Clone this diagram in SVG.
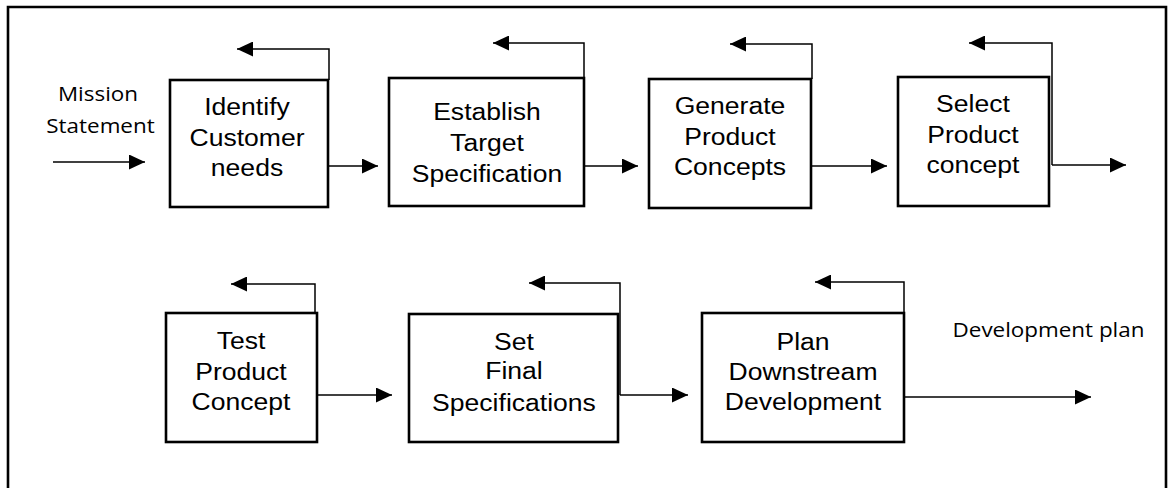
<svg xmlns="http://www.w3.org/2000/svg" width="1168" height="488" viewBox="0 0 1168 488">
<defs>
<marker id="ah" markerUnits="userSpaceOnUse" markerWidth="16" markerHeight="15" refX="16" refY="7.5" orient="auto">
<path d="M0,0 L16,7.5 L0,15 Z" fill="#000"/>
</marker>
<style>
.box{fill:#fff;stroke:#000;stroke-width:2.6}
.frame{fill:none;stroke:#000;stroke-width:2.6}
.con{fill:none;stroke:#000;stroke-width:1.5}
.arr{marker-end:url(#ah)}
.lbl{font-family:"Liberation Sans",Arial,sans-serif;font-size:23.5px;fill:#000;text-anchor:middle}
.note{font-family:"Open Sans","Noto Sans",sans-serif;font-size:19.5px;fill:#000;text-anchor:middle}
</style>
</defs>
<rect width="1168" height="488" fill="#fff"/>
<path class="frame" d="M8,492 V7 H1166 V492"/>

<g id="connectors">
<path class="con arr" d="M53,162 H145"/>
<path class="con arr" d="M329,80 V49 H237"/>
<path class="con arr" d="M329,166 H378"/>
<path class="con arr" d="M584,78 V43 H493"/>
<path class="con arr" d="M584,166 H638"/>
<path class="con arr" d="M812,79 V44 H730"/>
<path class="con arr" d="M811,166 H887"/>
<path class="con arr" d="M1052,165 V43 H969"/>
<path class="con arr" d="M1052,165 H1126"/>
<path class="con arr" d="M315,395 V284 H231"/>
<path class="con arr" d="M316,395 H392"/>
<path class="con arr" d="M620,395 V283 H529"/>
<path class="con arr" d="M620,395 H688"/>
<path class="con arr" d="M904,313 V282 H815"/>
<path class="con arr" d="M904,397 H1091"/>
</g>

<g id="mission">
<text class="note" transform="translate(98 0) scale(1.15 1)" x="0" y="101">Mission</text>
<text class="note" transform="translate(100.5 0) scale(1.15 1)" x="0" y="133">Statement</text>
</g>

<g id="identify">
<rect class="box" x="170" y="80" width="158" height="127"/>
<g transform="translate(247 0) scale(1.13 1)">
<text class="lbl" x="0" y="115">Identify</text>
<text class="lbl" x="0" y="146">Customer</text>
<text class="lbl" x="0" y="176">needs</text>
</g>
</g>

<g id="establish">
<rect class="box" x="389" y="78" width="195" height="128"/>
<g transform="translate(487 0) scale(1.13 1)">
<text class="lbl" x="0" y="120">Establish</text>
<text class="lbl" x="0" y="151">Target</text>
<text class="lbl" x="0" y="182">Specification</text>
</g>
</g>

<g id="generate">
<rect class="box" x="649" y="79" width="162" height="129"/>
<g transform="translate(730 0) scale(1.13 1)">
<text class="lbl" x="0" y="114">Generate</text>
<text class="lbl" x="0" y="145">Product</text>
<text class="lbl" x="0" y="175">Concepts</text>
</g>
</g>

<g id="select">
<rect class="box" x="898" y="77" width="151" height="129"/>
<g transform="translate(973 0) scale(1.13 1)">
<text class="lbl" x="0" y="112">Select</text>
<text class="lbl" x="0" y="143">Product</text>
<text class="lbl" x="0" y="173">concept</text>
</g>
</g>

<g id="test">
<rect class="box" x="166" y="313" width="151" height="129"/>
<g transform="translate(241 0) scale(1.13 1)">
<text class="lbl" x="0" y="349">Test</text>
<text class="lbl" x="0" y="380">Product</text>
<text class="lbl" x="0" y="410">Concept</text>
</g>
</g>

<g id="setfinal">
<rect class="box" x="409" y="314" width="209" height="128"/>
<g transform="translate(514 0) scale(1.13 1)">
<text class="lbl" x="0" y="350">Set</text>
<text class="lbl" x="0" y="379">Final</text>
<text class="lbl" x="0" y="411">Specifications</text>
</g>
</g>

<g id="plan">
<rect class="box" x="702" y="313" width="202" height="129"/>
<g transform="translate(803 0) scale(1.13 1)">
<text class="lbl" x="0" y="350">Plan</text>
<text class="lbl" x="0" y="380">Downstream</text>
<text class="lbl" x="0" y="410">Development</text>
</g>
</g>

<g id="devplan">
<text class="note" transform="translate(1048.5 0) scale(1.15 1)" x="0" y="337">Development plan</text>
</g>
</svg>
